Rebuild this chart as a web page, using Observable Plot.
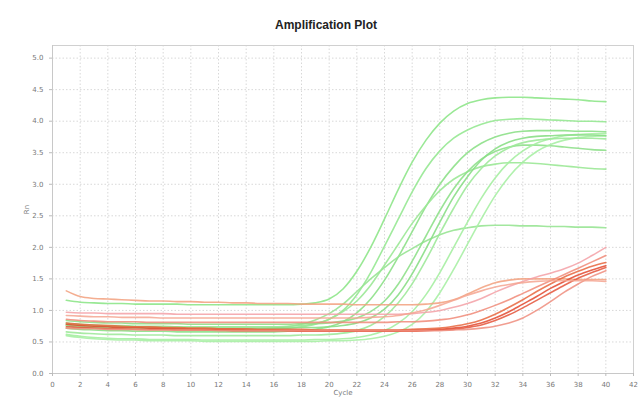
<!DOCTYPE html>
<html>
<head>
<meta charset="utf-8">
<script src="https://cdn.jsdelivr.net/npm/d3@7"></script>
<script src="https://cdn.jsdelivr.net/npm/@observablehq/plot@0.6"></script>
<style>
  html, body { margin: 0; padding: 0; background: #fff; }
  #wrap { position: relative; width: 638px; height: 397px; overflow: hidden; }
  #title { position: absolute; left: 0; top: 17px; width: 638px; box-sizing: border-box; padding-left: 14px;
           text-align: center; font: bold 12px "Liberation Sans Narrow", "Liberation Sans", Arial, sans-serif;
           line-height: 16px; color: #222; }
</style>
</head>
<body>
<div id="wrap"><div id="title">Amplification Plot</div></div>
<script>
const cycles = [1,2,3,4,5,6,7,8,9,10,11,12,13,14,15,16,17,18,19,20,21,22,23,24,25,26,27,28,29,30,31,32,33,34,35,36,37,38,39,40];
const xTicks = [0,2,4,6,8,10,12,14,16,18,20,22,24,26,28,30,32,34,36,38,40,42];
const yTicks = [0,0.5,1,1.5,2,2.5,3,3.5,4,4.5,5];

// Green (amplified) wells
const G1 = [1.16,1.13,1.12,1.11,1.11,1.10,1.10,1.10,1.10,1.09, 1.09,1.09,1.09,1.09,1.09,1.09,1.09,1.10,1.12,1.18, 1.34,1.62,2.00,2.45,2.92,3.35,3.70,3.97,4.16,4.28, 4.34,4.37,4.38,4.38,4.37,4.36,4.35,4.34,4.32,4.31];
const G2 = [0.80,0.78,0.77,0.76,0.76,0.75,0.75,0.75,0.74,0.74, 0.74,0.74,0.74,0.74,0.74,0.74,0.75,0.76,0.79,0.86, 1.00,1.25,1.60,2.02,2.45,2.88,3.25,3.53,3.73,3.86, 3.95,4.01,4.03,4.04,4.03,4.02,4.01,4.00,4.00,3.99];
const G3 = [0.72,0.70,0.69,0.68,0.68,0.67,0.67,0.67,0.66,0.66, 0.66,0.66,0.66,0.66,0.66,0.66,0.67,0.68,0.70,0.74, 0.82,0.96,1.18,1.48,1.85,2.25,2.65,3.00,3.28,3.50, 3.65,3.75,3.81,3.84,3.85,3.85,3.85,3.84,3.84,3.83];
const G4 = [0.76,0.74,0.73,0.72,0.72,0.71,0.71,0.71,0.71,0.70, 0.70,0.70,0.70,0.70,0.70,0.71,0.72,0.74,0.78,0.86, 0.98,1.15,1.40,1.72,2.05,2.38,2.66,2.90,3.08,3.20, 3.28,3.32,3.34,3.34,3.33,3.31,3.29,3.27,3.25,3.24];
const G5 = [0.76,0.74,0.73,0.72,0.72,0.72,0.71,0.71,0.71,0.71, 0.71,0.71,0.71,0.71,0.71,0.72,0.74,0.78,0.85,0.95, 1.10,1.30,1.50,1.68,1.85,1.98,2.10,2.20,2.27,2.31, 2.34,2.35,2.35,2.34,2.34,2.33,2.33,2.32,2.32,2.31];
const G6 = [0.84,0.82,0.81,0.80,0.80,0.79,0.79,0.79,0.79,0.78, 0.78,0.78,0.78,0.78,0.78,0.78,0.78,0.79,0.79,0.80, 0.83,0.88,0.98,1.15,1.42,1.78,2.18,2.58,2.93,3.20, 3.40,3.52,3.59,3.62,3.62,3.61,3.59,3.57,3.55,3.54];
const G7 = [0.62,0.59,0.57,0.56,0.55,0.55,0.54,0.54,0.54,0.54, 0.53,0.53,0.53,0.53,0.53,0.53,0.53,0.53,0.54,0.54, 0.55,0.57,0.61,0.68,0.80,0.98,1.25,1.60,2.00,2.40, 2.78,3.10,3.35,3.53,3.65,3.72,3.77,3.79,3.80,3.80];
const G8 = [0.60,0.57,0.55,0.54,0.53,0.53,0.52,0.52,0.52,0.52, 0.51,0.51,0.51,0.51,0.51,0.51,0.51,0.51,0.51,0.52, 0.52,0.53,0.55,0.59,0.66,0.78,0.98,1.28,1.65,2.05, 2.45,2.82,3.12,3.35,3.52,3.63,3.70,3.74,3.76,3.77];
const G9 = [0.78,0.76,0.75,0.74,0.74,0.73,0.73,0.73,0.73,0.72, 0.72,0.72,0.72,0.72,0.72,0.72,0.72,0.73,0.73,0.74, 0.76,0.80,0.88,1.02,1.25,1.58,1.98,2.40,2.80,3.12, 3.38,3.56,3.67,3.73,3.76,3.77,3.78,3.78,3.78,3.77];
const G10 = [0.66,0.64,0.63,0.62,0.62,0.61,0.61,0.61,0.60,0.60, 0.60,0.60,0.60,0.60,0.60,0.60,0.60,0.61,0.61,0.62, 0.64,0.68,0.76,0.90,1.12,1.42,1.80,2.22,2.62,2.98, 3.25,3.45,3.58,3.66,3.70,3.72,3.73,3.73,3.73,3.72];

// Red (late / weak) wells
const R1 = [1.31,1.22,1.19,1.18,1.17,1.16,1.15,1.15,1.14,1.14, 1.13,1.13,1.12,1.12,1.11,1.11,1.11,1.10,1.10,1.10, 1.10,1.09,1.09,1.09,1.09,1.09,1.10,1.12,1.17,1.26, 1.36,1.44,1.48,1.50,1.50,1.50,1.50,1.49,1.49,1.49];
const R2 = [0.97,0.96,0.96,0.95,0.95,0.95,0.95,0.95,0.94,0.94, 0.94,0.94,0.94,0.94,0.94,0.94,0.94,0.94,0.94,0.94, 0.94,0.94,0.94,0.94,0.94,0.95,0.97,1.00,1.05,1.11, 1.19,1.29,1.38,1.46,1.53,1.59,1.66,1.75,1.87,2.00];
const R3 = [0.86,0.84,0.83,0.82,0.82,0.82,0.81,0.81,0.81,0.81, 0.81,0.81,0.81,0.81,0.81,0.81,0.81,0.81,0.81,0.81, 0.81,0.81,0.81,0.81,0.82,0.82,0.83,0.85,0.88,0.93, 1.00,1.08,1.17,1.27,1.37,1.47,1.57,1.67,1.77,1.87];
const R4 = [0.78,0.76,0.75,0.74,0.73,0.73,0.72,0.72,0.71,0.71, 0.70,0.70,0.70,0.69,0.69,0.69,0.68,0.68,0.68,0.68, 0.68,0.68,0.68,0.68,0.68,0.69,0.69,0.70,0.72,0.75, 0.80,0.88,0.98,1.10,1.22,1.35,1.46,1.56,1.64,1.71];
const R5 = [0.74,0.73,0.72,0.71,0.71,0.70,0.70,0.70,0.69,0.69, 0.69,0.69,0.68,0.68,0.68,0.68,0.68,0.67,0.67,0.67, 0.67,0.67,0.67,0.67,0.67,0.67,0.68,0.69,0.70,0.73, 0.77,0.84,0.93,1.04,1.16,1.28,1.40,1.51,1.60,1.68];
const R6 = [0.80,0.78,0.77,0.76,0.75,0.74,0.74,0.73,0.73,0.72, 0.72,0.71,0.71,0.71,0.70,0.70,0.70,0.70,0.69,0.69, 0.69,0.69,0.69,0.69,0.69,0.70,0.71,0.72,0.75,0.79, 0.85,0.94,1.05,1.17,1.30,1.42,1.53,1.62,1.70,1.76];
const R7 = [0.72,0.71,0.71,0.70,0.70,0.70,0.69,0.69,0.69,0.69, 0.69,0.68,0.68,0.68,0.68,0.68,0.68,0.68,0.68,0.68, 0.68,0.68,0.68,0.68,0.68,0.68,0.68,0.68,0.69,0.70, 0.72,0.75,0.80,0.88,1.00,1.14,1.29,1.42,1.54,1.63];
const R8 = [0.92,0.91,0.90,0.90,0.89,0.89,0.89,0.88,0.88,0.88, 0.88,0.88,0.88,0.88,0.88,0.88,0.88,0.88,0.88,0.88, 0.88,0.88,0.89,0.90,0.92,0.96,1.01,1.08,1.16,1.24, 1.31,1.37,1.41,1.44,1.46,1.47,1.47,1.47,1.47,1.46];

const greenWells = {G1, G2, G3, G4, G5, G6, G7, G8, G9, G10};
const redWells = {R1, R2, R3, R4, R5, R6, R7, R8};

function toRows(wells) {
  const rows = [];
  for (const [well, values] of Object.entries(wells)) {
    values.forEach((rn, i) => rows.push({well, cycle: cycles[i], rn}));
  }
  return rows;
}
const greenRows = toRows(greenWells);
const redRows = toRows(redWells);

const greenNames = Object.keys(greenWells);
const redNames = Object.keys(redWells);
const greenPalette = ["#8ee58a","#96e892","#8de088","#9be896","#98e493","#8fe08b","#a6eea2","#a9efa5","#8ade86","#9ee99a"];
const redPalette = ["#f2a07e","#f3a0a6","#f08a78","#e2482e","#e4543a","#e8663e","#ef8d7e","#f4a590"];
const greenColor = new Map(greenNames.map((n, i) => [n, greenPalette[i]]));
const redColor = new Map(redNames.map((n, i) => [n, redPalette[i]]));

const axisStyle = {fontSize: 7, fill: "#777", tickSize: 3, stroke: "#bbb"};

const chart = Plot.plot({
  width: 638,
  height: 397,
  marginTop: 45,
  marginBottom: 24,
  marginLeft: 52,
  marginRight: 5,
  style: {fontFamily: "'DejaVu Sans', sans-serif", background: "#fff"},
  x: {domain: [0, 42]},
  y: {domain: [0, 5.2]},
  marks: [
    Plot.gridX(xTicks, {stroke: "#d8d8d8", strokeOpacity: 1, strokeDasharray: "1.5,2"}),
    Plot.gridY(yTicks, {stroke: "#d8d8d8", strokeOpacity: 1, strokeDasharray: "1.5,2"}),
    Plot.frame({stroke: "#d0d0d0"}),
    Plot.ruleY([0], {stroke: "#c8c8c8"}),
    Plot.ruleX([0], {stroke: "#c8c8c8"}),
    Plot.line(greenRows, {x: "cycle", y: "rn", z: "well", stroke: d => greenColor.get(d.well), strokeWidth: 1.6, strokeOpacity: 0.9, curve: "monotone-x"}),
    Plot.line(redRows, {x: "cycle", y: "rn", z: "well", stroke: d => redColor.get(d.well), strokeWidth: 1.6, strokeOpacity: 0.85, curve: "monotone-x"}),
    Plot.axisX(xTicks, {...axisStyle, tickFormat: d3.format("d"), label: "Cycle", labelAnchor: "center", labelOffset: 21, labelArrow: "none"}),
    Plot.axisY(yTicks, {...axisStyle, tickFormat: d3.format(".1f"), label: "Rn", labelAnchor: "center", labelOffset: 28, labelArrow: "none"})
  ]
});
document.getElementById("wrap").appendChild(chart);
</script>
</body>
</html>
